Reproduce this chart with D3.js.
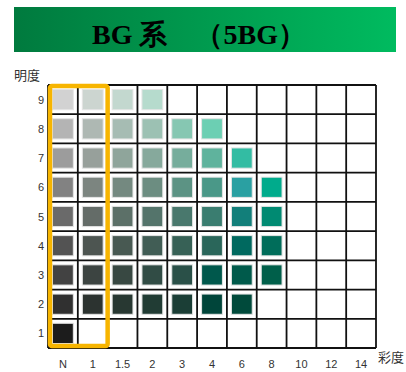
<!DOCTYPE html>
<html>
<head>
<meta charset="utf-8">
<script src="https://cdn.jsdelivr.net/npm/d3@7/dist/d3.min.js"></script>
<style>
body { margin: 0; background: #fff; }
svg { display: block; }
</style>
</head>
<body>
<script>
// chroma (彩度) columns and value (明度) rows
var chroma = ["N", "1", "1.5", "2", "3", "4", "6", "8", "10", "12", "14"];
var value = ["9", "8", "7", "6", "5", "4", "3", "2", "1"];

// colour chips per value row, from N upward
var row9 = ["#d2d2d2", "#ccd5d0", "#c3d8cf", "#b6dbcd"];
var row8 = ["#b4b4b4", "#aeb8b3", "#a6bcb3", "#9cc1b3", "#86c7b2", "#6ccfb3"];
var row7 = ["#9c9c9c", "#97a09b", "#8fa59b", "#86a99c", "#76ad9c", "#5fb39d", "#33bca3"];
var row6 = ["#828282", "#7c8580", "#748980", "#6c8d81", "#5c9384", "#4a9888", "#2aa0a2", "#00ab8c"];
var row5 = ["#6a6a6a", "#646c68", "#5c7068", "#54746b", "#49786d", "#3a7d70", "#127f7a", "#008a72"];
var row4 = ["#535353", "#4d5551", "#485952", "#415d55", "#376156", "#2a665a", "#00695f", "#006d5a"];
var row3 = ["#424242", "#3c4441", "#384842", "#314c45", "#2a5048", "#00584c", "#005a4b", "#005f4a"];
var row2 = ["#303030", "#2c3330", "#283832", "#213c34", "#1b3e36", "#00453a", "#004a3b"];
var row1 = ["#1c1c1c"];
var rows = [row9, row8, row7, row6, row5, row4, row3, row2, row1];

var W = 406, H = 372;
var svg = d3.select("body").append("svg").attr("width", W).attr("height", H);

// title banner
var grad = svg.append("defs").append("linearGradient").attr("id", "bannerGrad");
grad.append("stop").attr("offset", "0%").attr("stop-color", "#007a3e");
grad.append("stop").attr("offset", "100%").attr("stop-color", "#00bb5f");
svg.append("rect").attr("x", 14).attr("y", 7).attr("width", 382).attr("height", 45).attr("fill", "url(#bannerGrad)");
svg.append("text")
	.attr("x", 199).attr("y", 44)
	.attr("text-anchor", "middle")
	.style("font-family", "'Liberation Serif', 'DejaVu Serif', serif")
	.style("font-weight", "bold")
	.style("font-size", "28px")
	.attr("fill", "#000")
	.text("BG 系　（5BG）");

var x = d3.scaleBand().domain(chroma).range([48, 376]);
var y = d3.scaleBand().domain(value).range([85, 348]);

var g = svg.append("g");

// chips
rows.forEach(function(r, i) {
	g.selectAll(null)
		.data(r)
		.enter()
		.append("rect")
		.attr("x", function(d, j) { return x(chroma[j]) + 4.5; })
		.attr("y", y(value[i]) + 4.5)
		.attr("width", x.bandwidth() - 9)
		.attr("height", y.bandwidth() - 9)
		.attr("fill", function(d) { return d; })
		.attr("stroke", "#e4e4e4")
		.attr("stroke-width", 1);
});

// grid lines
g.selectAll(".vline")
	.data(d3.range(chroma.length + 1))
	.enter()
	.append("line")
	.attr("x1", function(d) { return 48 + d * x.step(); })
	.attr("x2", function(d) { return 48 + d * x.step(); })
	.attr("y1", 85).attr("y2", 348)
	.attr("stroke", "#111").attr("stroke-width", 1.8);
g.selectAll(".hline")
	.data(d3.range(value.length + 1))
	.enter()
	.append("line")
	.attr("y1", function(d) { return 85 + d * y.step(); })
	.attr("y2", function(d) { return 85 + d * y.step(); })
	.attr("x1", 48).attr("x2", 376)
	.attr("stroke", "#111").attr("stroke-width", 1.8);

// achromatic / low chroma highlight
svg.append("rect")
	.attr("x", x("N") + 2).attr("y", 86)
	.attr("width", x.step() * 2 - 2).attr("height", 260)
	.attr("rx", 2)
	.attr("fill", "none")
	.attr("stroke", "#f7b500")
	.attr("stroke-width", 4.5);

// tick labels
var lab = { "font-family": "'Liberation Sans', Arial, sans-serif", "font-size": "11px" };
svg.selectAll(".ylab")
	.data(value)
	.enter()
	.append("text")
	.attr("x", 44)
	.attr("y", function(d) { return y(d) + y.bandwidth() / 2 + 4; })
	.attr("text-anchor", "end")
	.attr("fill", "#333")
	.style("font-family", lab["font-family"]).style("font-size", lab["font-size"])
	.text(function(d) { return d; });
svg.selectAll(".xlab")
	.data(chroma)
	.enter()
	.append("text")
	.attr("x", function(d) { return x(d) + x.bandwidth() / 2; })
	.attr("y", 368)
	.attr("text-anchor", "middle")
	.attr("fill", "#333")
	.style("font-family", lab["font-family"]).style("font-size", lab["font-size"])
	.text(function(d) { return d; });

svg.append("text").attr("x", 14).attr("y", 80)
	.attr("fill", "#333")
	.style("font-family", "'Noto Sans CJK JP', sans-serif").style("font-size", "13px")
	.text("明度");
svg.append("text").attr("x", 378).attr("y", 362)
	.attr("fill", "#333")
	.style("font-family", "'Noto Sans CJK JP', sans-serif").style("font-size", "13px")
	.text("彩度");
</script>
</body>
</html>
